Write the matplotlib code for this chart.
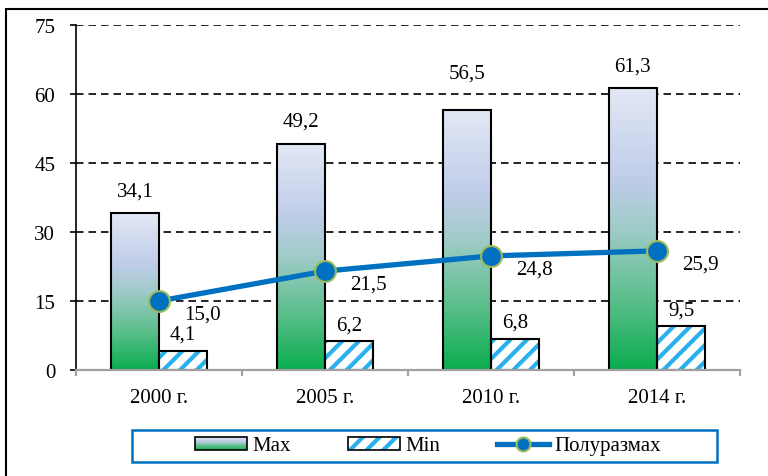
import matplotlib
matplotlib.use('Agg')
import matplotlib.pyplot as plt
import numpy as np
from matplotlib.colors import LinearSegmentedColormap
from matplotlib.patches import Rectangle
from matplotlib.legend_handler import HandlerBase
from matplotlib.lines import Line2D

# data
years = ['2000 г.', '2005 г.', '2010 г.', '2014 г.']
max_vals = [34.1, 49.2, 56.5, 61.3]
min_vals = [4.1, 6.2, 6.8, 9.5]
half_range = [15.0, 21.5, 24.8, 25.9]
y_ticks = [0, 15, 30, 45, 60, 75]

# label lift above max bars (pt); 56,5 sits higher to clear the gridline
max_label_lift = [16, 16, 27, 16]

plt.rcParams['font.family'] = ['Liberation Serif', 'DejaVu Serif']
plt.rcParams['font.size'] = 15
plt.rcParams['hatch.linewidth'] = 3.0

BLUE = '#0070C0'
HATCH = '#2AB0EC'
grad = LinearSegmentedColormap.from_list('maxgrad', [
    (0.0, '#0aad4e'), (0.25, '#5cbf8c'), (0.5, '#9fcbc8'),
    (0.68, '#c0cdea'), (1.0, '#e2e8f4')])


def fmt(v):
    return f'{v:.1f}'.replace('.', ',')


class GradientHandler(HandlerBase):
    def create_artists(self, legend, orig_handle, xdescent, ydescent,
                       width, height, fontsize, trans):
        arts = []
        n = 12
        for i in range(n):
            r = Rectangle((-xdescent, -ydescent + i * height / n), width, height / n,
                          facecolor=grad(i / (n - 1)), edgecolor='none', transform=trans)
            arts.append(r)
        arts.append(Rectangle((-xdescent, -ydescent), width, height, fill=False,
                              edgecolor='black', lw=1.2, transform=trans))
        return arts


class HatchHandler(HandlerBase):
    def create_artists(self, legend, orig_handle, xdescent, ydescent,
                       width, height, fontsize, trans):
        r = Rectangle((-xdescent, -ydescent), width, height, facecolor='white',
                      edgecolor=HATCH, hatch='//', lw=0, transform=trans)
        b = Rectangle((-xdescent, -ydescent), width, height, fill=False,
                      edgecolor='black', lw=1.2, transform=trans)
        return [r, b]


fig = plt.figure(figsize=(7.68, 4.77), dpi=100)
ax = fig.add_axes([76 / 768, 1 - 371 / 477, (740 - 76) / 768, (371 - 26) / 477])

x = np.arange(len(years))
w = 0.29

# gridlines
for yv in y_ticks[1:]:
    ax.axhline(yv, color='black', lw=1.2, ls=(0, (4.5, 3)), zorder=1)

# max bars with gradient
grad_img = np.linspace(0, 1, 256).reshape(-1, 1)
max_bars = ax.bar(x - w / 2, max_vals, w, facecolor='none', edgecolor='black', lw=1.5, zorder=4)
for b in max_bars:
    bx, by = b.get_x(), b.get_y()
    im = ax.imshow(grad_img, cmap=grad, origin='lower', aspect='auto',
                   extent=(bx, bx + b.get_width(), by, by + b.get_height()), zorder=3)
    im.set_clip_path(b)

# min bars hatched
ax.bar(x + w / 2, min_vals, w, facecolor='white', edgecolor=HATCH, hatch='//', lw=0, zorder=3)
ax.bar(x + w / 2, min_vals, w, fill=False, edgecolor='black', lw=1.5, zorder=4)

# line
ax.plot(x, half_range, color=BLUE, lw=3.8, marker='o', markersize=15,
        markerfacecolor=BLUE, markeredgecolor='#9BBB59', markeredgewidth=1.5, zorder=6)

# labels
for i in range(len(years)):
    ax.annotate(fmt(max_vals[i]), (x[i] - w / 2, max_vals[i]), xytext=(0, max_label_lift[i]),
                textcoords='offset points', ha='center', va='center', zorder=7)
    ax.annotate(fmt(min_vals[i]), (x[i] + w / 2, min_vals[i]), xytext=(0, 12),
                textcoords='offset points', ha='center', va='center', zorder=7)
    ax.annotate(fmt(half_range[i]), (x[i], half_range[i]), xytext=(31.5, -9.5),
                textcoords='offset points', ha='center', va='center', zorder=7)

ax.set_xlim(-0.5, 3.5)
ax.set_ylim(0, 75)
ax.set_yticks(y_ticks)
ax.set_xticks(x)
ax.set_xticklabels(years)
ax.set_xticks(np.arange(-0.5, 4, 1), minor=True)
ax.tick_params(axis='x', which='major', length=0, pad=13)
ax.tick_params(axis='x', which='minor', length=4.5, width=1.5, color='#a0a0a0')
ax.tick_params(axis='y', length=4, width=1.2, pad=11)
for s in ['top', 'right']:
    ax.spines[s].set_visible(False)
ax.spines['bottom'].set_color('#a0a0a0')
ax.spines['bottom'].set_linewidth(1.6)
ax.spines['left'].set_linewidth(1.2)
ax.spines['bottom'].set_zorder(5)

# legend
h_max = Rectangle((0, 0), 1, 1)
h_min = Rectangle((0, 0), 1, 1)
h_line = Line2D([], [], color=BLUE, lw=3.8, marker='o', markersize=10,
                markerfacecolor=BLUE, markeredgecolor='#9BBB59', markeredgewidth=1.5)
leg = fig.legend([h_max, h_min, h_line], ['Max', 'Min', 'Полуразмах'],
                 handler_map={h_max: GradientHandler(), h_min: HatchHandler()},
                 loc='center', bbox_to_anchor=(428 / 768, 1 - 447 / 477),
                 ncol=3, frameon=False, handlelength=2.5, handleheight=0.6,
                 handletextpad=0.25, columnspacing=2.75,
                 prop={'family': 'Liberation Serif', 'size': 15})
fig.add_artist(Rectangle((132 / 768, 1 - 463 / 477), (717 - 132) / 768, 32 / 477,
                         transform=fig.transFigure, fill=False, edgecolor=BLUE, lw=1.8))

# outer border
fig.add_artist(Rectangle((6 / 768, -0.1), 1.0, 1.1 - 10 / 477,
                         transform=fig.transFigure, fill=False, edgecolor='black', lw=1.5))

fig.savefig('out.png', dpi=100)
